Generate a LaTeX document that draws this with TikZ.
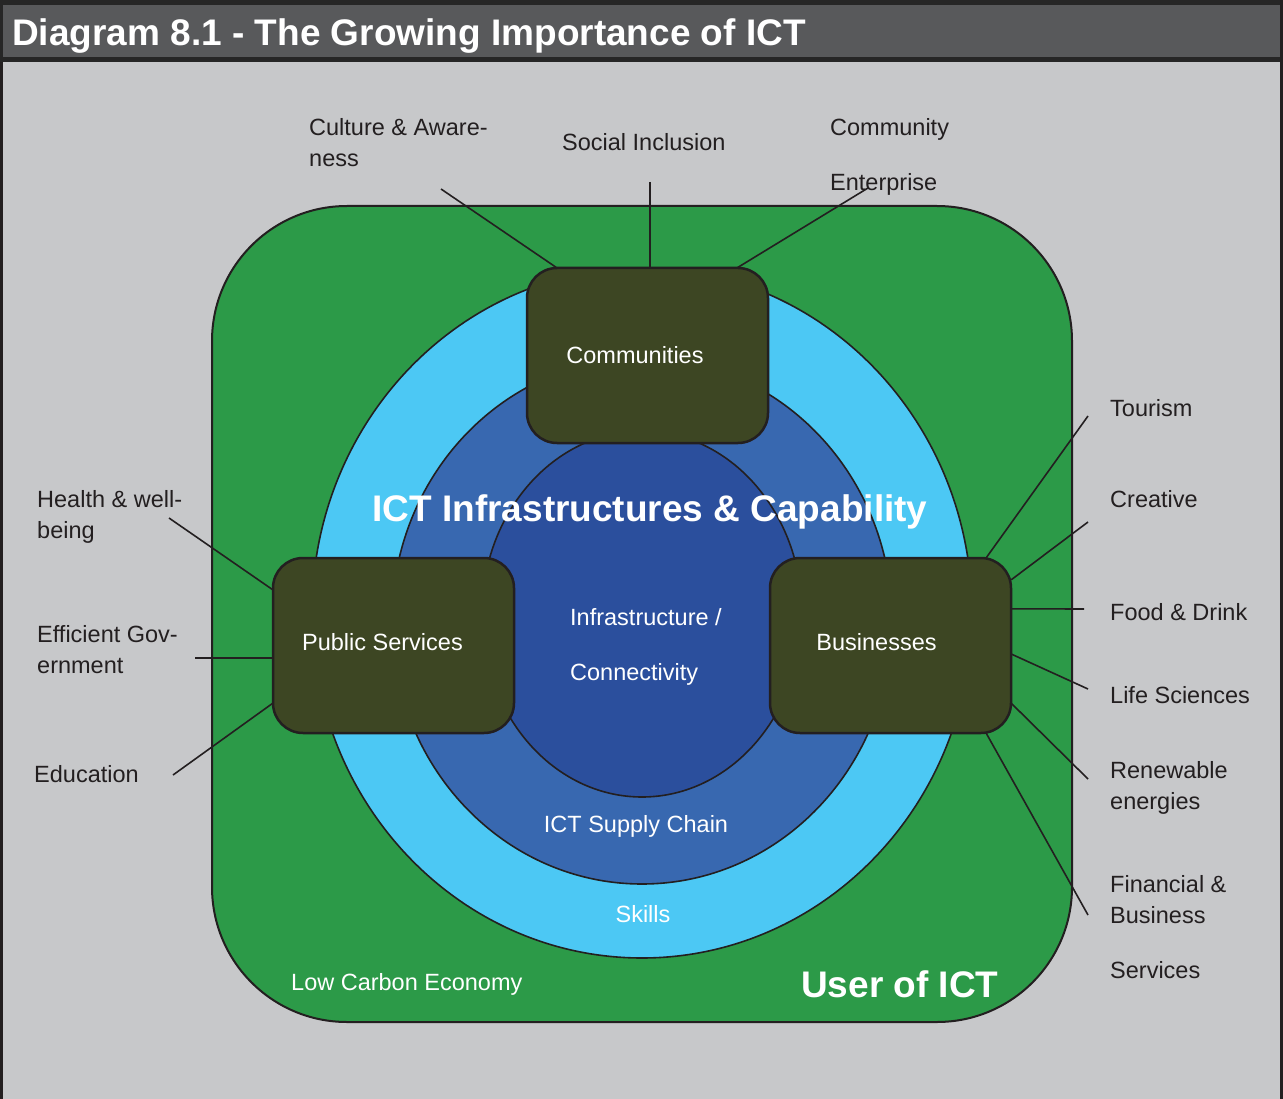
\documentclass[tikz,border=0pt]{standalone}
\usepackage{fontspec}
\setmainfont{Liberation Sans}
\usetikzlibrary{calc}
\definecolor{bggray}{RGB}{199,200,202}
\definecolor{titlegray}{RGB}{88,89,91}
\definecolor{txtdark}{RGB}{35,31,32}
\definecolor{ictgreen}{RGB}{44,154,72}
\definecolor{lightblue}{RGB}{76,200,244}
\definecolor{midblue}{RGB}{56,104,176}
\definecolor{innerblue}{RGB}{43,79,157}
\definecolor{boxfill}{RGB}{61,70,35}
\begin{document}
\begin{tikzpicture}[x=1pt,y=-1pt,
  lbl/.style={anchor=base west, inner sep=0pt, text=txtdark, font=\fontsize{23.5}{28}\selectfont},
  wlbl/.style={anchor=base, inner sep=0pt, text=white, font=\fontsize{23.5}{28}\selectfont},
  bigw/.style={inner sep=0pt, text=white, font=\bfseries\fontsize{37}{44}\selectfont},
  sector/.style={draw=txtdark, line width=2.5pt, fill=boxfill, rounded corners=30pt,
    minimum width=241pt, minimum height=175pt, inner sep=0pt},
  conn/.style={draw=txtdark, line width=1.6pt},
  ring/.style={draw=txtdark, line width=1.6pt}]
\useasboundingbox (0,0) rectangle (1283,1099);
% background and title bar
\fill[bggray] (0,0) rectangle (1283,1099);
\fill[black!85] (0,0) rectangle (1283,62);
\fill[titlegray] (3,5) rectangle (1280,57);
\draw[txtdark, line width=2.5pt] (1.5,62) -- (1.5,1099);
\draw[txtdark, line width=2.5pt] (1281.5,0) -- (1281.5,1099);
\node[bigw, anchor=base west] (title) at (12,46) {Diagram 8.1 - The Growing Importance of ICT};
% user of ICT area
\draw[fill=ictgreen, draw=txtdark, line width=2pt, rounded corners=135pt] (212,206) rectangle (1072,1022);
% rings
\draw[ring, fill=lightblue] (642,613) ellipse [x radius=330pt, y radius=345pt];
\draw[ring, fill=midblue] (642,621) ellipse [x radius=250pt, y radius=263pt];
\draw[ring, fill=innerblue] (642,614) ellipse [x radius=160pt, y radius=183pt];
% free ends of connectors
\coordinate (eCul) at (441,189);
\coordinate (eSoc) at (650,182);
\coordinate (eEnt) at (868,188);
\coordinate (eTou) at (1088,416);
\coordinate (eCre) at (1088,522);
\coordinate (eFoo) at (1084,609);
\coordinate (eLif) at (1088,689);
\coordinate (eRen) at (1088,779);
\coordinate (eFin) at (1088,915);
\coordinate (eHea) at (169,518);
\coordinate (eEff) at (195,658);
\coordinate (eEdu) at (173,775);
% sector boxes (positions)
\path (647.5,355.5) coordinate (pComm) (393.5,645.5) coordinate (pPub) (890.5,645.5) coordinate (pBus);
\path (pComm) node[minimum width=241pt, minimum height=175pt, inner sep=0pt] (comm0) {};
\path (pPub) node[minimum width=241pt, minimum height=175pt, inner sep=0pt] (pub0) {};
\path (pBus) node[minimum width=241pt, minimum height=175pt, inner sep=0pt] (bus0) {};
% connectors
\draw[conn] (eCul) -- ([xshift=30pt]comm0.north west);
\draw[conn] (eSoc) -- (comm0.north -| eSoc);
\draw[conn] (eEnt) -- ([xshift=-31pt]comm0.north east);
\draw[conn] (eTou) -- ([xshift=-25pt]bus0.north east);
\draw[conn] (eCre) -- ([yshift=-22pt]bus0.north east);
\draw[conn] (eFoo) -- ([yshift=-51pt]bus0.north east);
\draw[conn] (eLif) -- ([yshift=-8.5pt]bus0.east);
\draw[conn] (eRen) -- ([yshift=30pt]bus0.south east);
\draw[conn] (eFin) -- ([xshift=-25pt]bus0.south east);
\draw[conn] (eHea) -- ([yshift=-32pt]pub0.north west);
\draw[conn] (eEff) -- ([yshift=-12.5pt]pub0.west);
\draw[conn] (eEdu) -- ([yshift=30pt]pub0.south west);
% boxes
\node[sector] (comm) at (pComm) {};
\node[sector] (pub) at (pPub) {};
\node[sector] (bus) at (pBus) {};
\node[wlbl] (commt) at (635,363) {Communities};
\node[wlbl] (pubt) at (382.5,650) {Public Services};
\node[wlbl] (bust) at (876.5,650) {Businesses};
% ring texts
\node[bigw, anchor=base] (ictcap) at (650,521) {ICT Infrastructures \& Capability};
\node[wlbl, anchor=base west] (inf1) at (570,625) {Infrastructure /};
\node[wlbl, anchor=base west] (inf2) at (570,680) {Connectivity};
\node[wlbl] (supply) at (636,832) {ICT Supply Chain};
\node[wlbl] (skills) at (643,922) {Skills};
\node[wlbl, anchor=base west] (lowc) at (291,990) {Low Carbon Economy};
\node[bigw, anchor=base west] (user) at (801,997) {User of ICT};
% outer labels
\node[lbl] (cul1) at (309,136) {Culture \& Aware-};
\node[lbl] (cul2) at (309,167) {ness};
\node[lbl] (soc) at (562,151) {Social Inclusion};
\node[lbl] (ent1) at (830,136) {Community};
\node[lbl] (ent2) at (830,191) {Enterprise};
\node[lbl] (tou) at (1110,416) {Tourism};
\node[lbl] (cre) at (1110,507) {Creative};
\node[lbl] (foo) at (1110,620) {Food \& Drink};
\node[lbl] (lif) at (1110,703) {Life Sciences};
\node[lbl] (ren1) at (1110,778) {Renewable};
\node[lbl] (ren2) at (1110,809) {energies};
\node[lbl] (fin1) at (1110,892) {Financial \&};
\node[lbl] (fin2) at (1110,923) {Business};
\node[lbl] (fin3) at (1110,978) {Services};
\node[lbl] (hea1) at (37,507) {Health \& well-};
\node[lbl] (hea2) at (37,538) {being};
\node[lbl] (eff1) at (37,642) {Efficient Gov-};
\node[lbl] (eff2) at (37,673) {ernment};
\node[lbl] (edu) at (34,782) {Education};
\end{tikzpicture}
\end{document}
